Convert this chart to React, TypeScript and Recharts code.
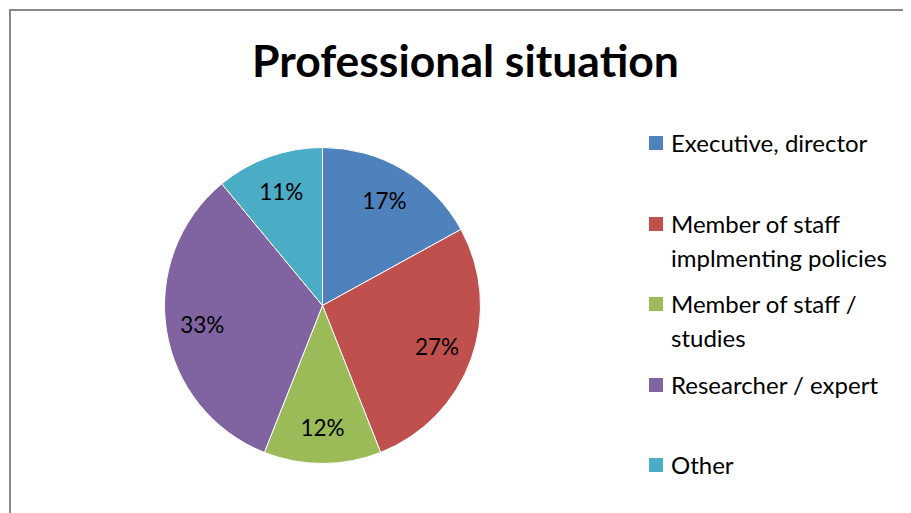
import { PieChart, Pie, Cell, Legend } from 'recharts';

// Categories and shares (%)
const categories = [
  'Executive, director',
  'Member of staff\nimplmenting policies',
  'Member of staff /\nstudies',
  'Researcher / expert',
  'Other',
];
const shares = [17, 27, 12, 33, 11];

// Slice colours
const COLORS = ['#4F81BD', '#C0504D', '#9BBB59', '#8064A2', '#4BACC6'];

const data = categories.map((name, i) => ({ name, value: shares[i] }));

const FONT = 'Lato, "Open Sans", sans-serif';
const RAD = Math.PI / 180;

// percentage label inside each slice
const renderLabel = (props: any) => {
  const { cx, cy, midAngle, outerRadius, value } = props;
  const r = outerRadius * 0.77;
  const x = cx + r * Math.cos(-midAngle * RAD);
  const y = cy + r * Math.sin(-midAngle * RAD);
  return (
    <text
      x={x}
      y={y}
      fill="#000"
      textAnchor="middle"
      dominantBaseline="central"
      fontFamily={FONT}
      fontSize={22.5}
    >
      {`${value}%`}
    </text>
  );
};

const LegendBox = () => (
  <div style={{ position: 'relative', width: 262, height: 360, fontFamily: FONT }}>
    {data.map((d, i) => (
      <div
        key={d.name}
        style={{
          position: 'absolute',
          left: 0,
          top: i * 80.5,
          display: 'flex',
          alignItems: 'flex-start',
        }}
      >
        <div
          style={{
            width: 14,
            height: 14,
            background: COLORS[i],
            marginTop: 10,
            marginRight: 8,
          }}
        />
        <div style={{ fontSize: 24, lineHeight: '34px', color: '#000', whiteSpace: 'pre' }}>
          {d.name}
        </div>
      </div>
    ))}
  </div>
);

const App = () => {
  return (
    <div style={{ position: 'relative', left: -8, top: -8, width: 911, height: 513, overflow: 'hidden', background: '#fff' }}>
      <div
        style={{
          position: 'absolute',
          left: 9,
          top: 9,
          width: 920,
          height: 520,
          borderLeft: '2px solid #888',
          borderTop: '2px solid #888',
        }}
      />
      <div
        style={{
          position: 'absolute',
          left: 0,
          width: 931,
          top: 32,
          textAlign: 'center',
          fontFamily: FONT,
          fontWeight: 700,
          fontSize: 44.5,
          lineHeight: '56px',
          color: '#000',
        }}
      >
        Professional situation
      </div>
      <div style={{ position: 'absolute', left: 0, top: 0 }}>
        <PieChart width={911} height={513} margin={{ top: 0, right: 0, bottom: 0, left: 0 }}>
          <Pie
            data={data}
            dataKey="value"
            nameKey="name"
            cx={322.5}
            cy={305.5}
            outerRadius={158}
            startAngle={90}
            endAngle={-270}
            stroke="#ffffff"
            strokeWidth={1}
            label={renderLabel}
            labelLine={false}
            isAnimationActive={false}
          >
            {data.map((_entry, index) => (
              <Cell key={`cell-${index}`} fill={COLORS[index % COLORS.length]} />
            ))}
          </Pie>
          <Legend
            content={() => <LegendBox />}
            wrapperStyle={{ position: 'absolute', left: 649, top: 126, width: 262 }}
          />
        </PieChart>
      </div>
    </div>
  );
};

export default App;
